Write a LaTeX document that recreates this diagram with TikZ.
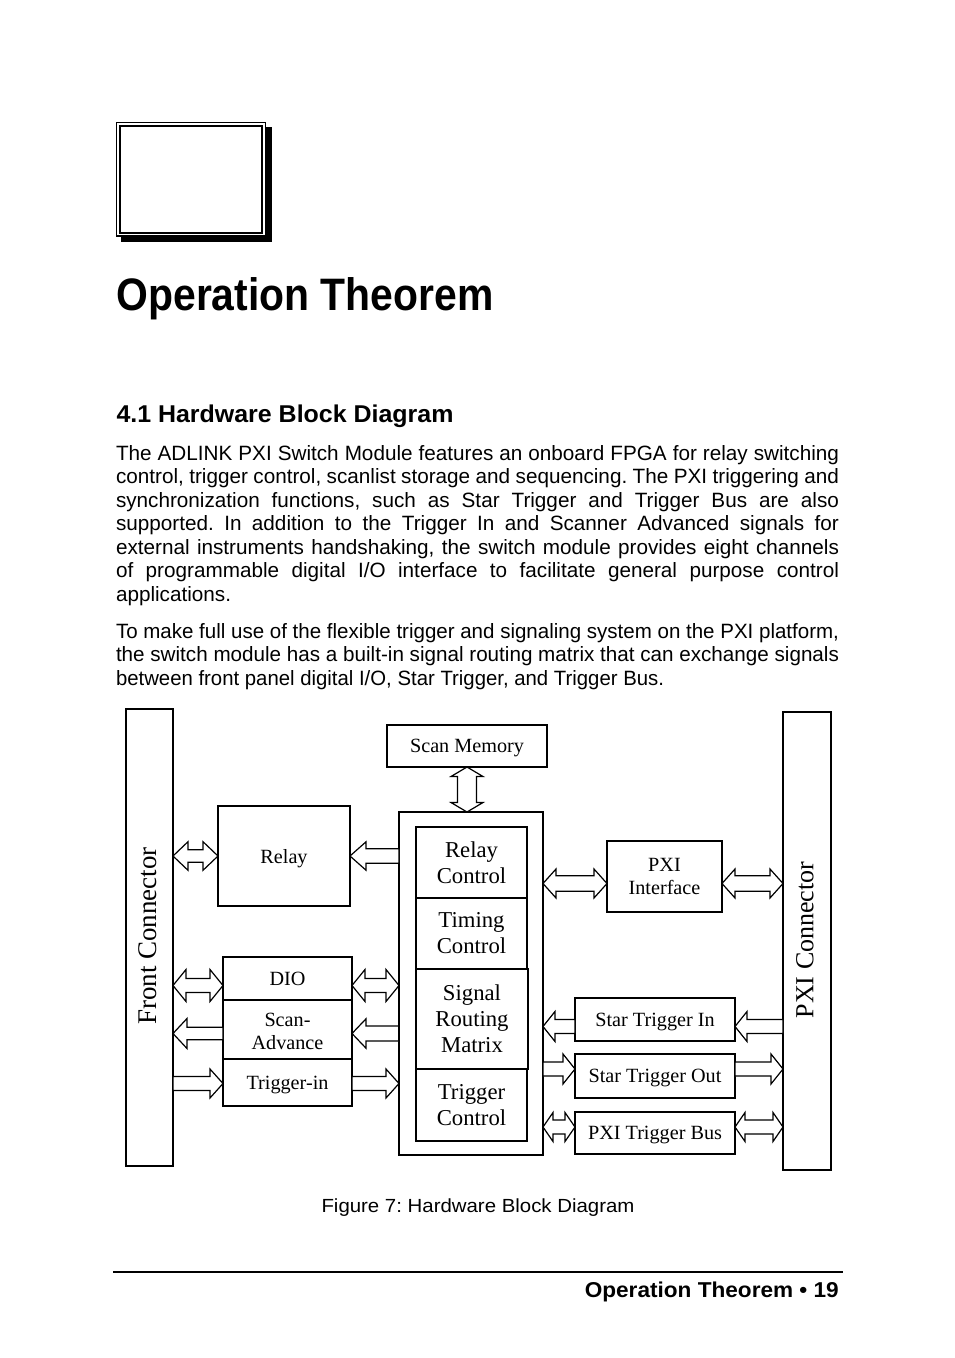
\documentclass[tikz,border=0pt]{standalone}
\usepackage{fontspec}
\setmainfont{Liberation Sans}
\newfontfamily\tms{Liberation Serif}
\usepackage{graphicx}
\usetikzlibrary{calc}
\frenchspacing
\tikzset{
  box/.style={draw, line width=1.4pt, fill=white, inner sep=0pt, outer sep=0pt, align=center,
    font=\tms\fontsize{20.2}{23.5}\selectfont},
  one/.style={text depth=0pt},
  bigbox/.style={box, font=\tms\fontsize{22.7}{26}\selectfont},
  conn/.style={box, font=\tms\fontsize{26.5}{30}\selectfont},
  blk/.style={draw, line width=1.2pt, fill=white, line join=miter},
  ashaft/.store in=\ashaft, ahead/.store in=\ahead, alen/.store in=\alen,
  ashaft=7, ahead=14.5, alen=13,
  txt/.style={anchor=base west, inner sep=0pt, outer sep=0pt},
  body/.style={txt, font=\fontsize{20.7}{25}\selectfont},
}
% single block arrow from #2 to #3 (horizontal)
\newcommand\sarr[3][]{\draw[blk,#1] let \p1=(#2), \p2=(#3), \n1={2*(\x2>\x1)-1} in
  (\x1,\y1+\ashaft pt) -- (\x2-\n1*\alen pt,\y1+\ashaft pt) -- (\x2-\n1*\alen pt,\y1+\ahead pt)
  -- (\x2,\y1) -- (\x2-\n1*\alen pt,\y1-\ahead pt) -- (\x2-\n1*\alen pt,\y1-\ashaft pt)
  -- (\x1,\y1-\ashaft pt) -- cycle;}
% double block arrow (horizontal)
\newcommand\darr[3][]{\draw[blk,#1] let \p1=(#2), \p2=(#3), \n1={2*(\x2>\x1)-1} in
  (\x1,\y1) -- (\x1+\n1*\alen pt,\y1+\ahead pt) -- (\x1+\n1*\alen pt,\y1+\ashaft pt)
  -- (\x2-\n1*\alen pt,\y1+\ashaft pt) -- (\x2-\n1*\alen pt,\y1+\ahead pt) -- (\x2,\y1)
  -- (\x2-\n1*\alen pt,\y1-\ahead pt) -- (\x2-\n1*\alen pt,\y1-\ashaft pt)
  -- (\x1+\n1*\alen pt,\y1-\ashaft pt) -- (\x1+\n1*\alen pt,\y1-\ahead pt) -- cycle;}
% double block arrow (vertical)
\newcommand\vdarr[3][]{\draw[blk,#1] let \p1=(#2), \p2=(#3), \n1={2*(\y2>\y1)-1} in
  (\x1,\y1) -- (\x1+\ahead pt,\y1+\n1*\alen pt) -- (\x1+\ashaft pt,\y1+\n1*\alen pt)
  -- (\x1+\ashaft pt,\y2-\n1*\alen pt) -- (\x1+\ahead pt,\y2-\n1*\alen pt) -- (\x1,\y2)
  -- (\x1-\ahead pt,\y2-\n1*\alen pt) -- (\x1-\ashaft pt,\y2-\n1*\alen pt)
  -- (\x1-\ashaft pt,\y1+\n1*\alen pt) -- (\x1-\ahead pt,\y1+\n1*\alen pt) -- cycle;}
\begin{document}
\begin{tikzpicture}[x=1pt,y=-1pt]
\useasboundingbox (0,0) rectangle (954,1358);
\fill[white] (0,0) rectangle (954,1358);
% chapter icon
\fill[black] (121,127) rectangle (272,242);
\draw[fill=white, line width=1.1pt] (116.3,122.3) rectangle (265.7,236);
\draw[line width=2.2pt] (119.8,125.8) rectangle (262.2,232.6);
% title and text
\node[txt] (title) at (116.5,310) {\resizebox{377pt}{\height}{\fontsize{45.5}{52}\selectfont\bfseries Operation Theorem}};
\node[txt] (sec) at (116.5,422) {\resizebox{337pt}{\height}{\fontsize{24.3}{28}\selectfont\bfseries 4.1 Hardware Block Diagram}};
\node[body] (p1) at (116,460) {\makebox[723pt][s]{The ADLINK PXI Switch Module features an onboard FPGA for relay switching}};
\node[body] (p2) at (116,483.5) {\makebox[723pt][s]{control, trigger control, scanlist storage and sequencing. The PXI triggering and}};
\node[body] (p3) at (116,507) {\makebox[723pt][s]{synchronization functions, such as Star Trigger and Trigger Bus are also}};
\node[body] (p4) at (116,530.5) {\makebox[723pt][s]{supported. In addition to the Trigger In and Scanner Advanced signals for}};
\node[body] (p5) at (116,554) {\makebox[723pt][s]{external instruments handshaking, the switch module provides eight channels}};
\node[body] (p6) at (116,577.5) {\makebox[723pt][s]{of programmable digital I/O interface to facilitate general purpose control}};
\node[body] (p7) at (116,601) {applications.};
\node[body] (q1) at (116,638) {\resizebox{723pt}{\height}{To make full use of the flexible trigger and signaling system on the PXI platform,}};
\node[body] (q2) at (116,661.5) {\resizebox{723pt}{\height}{the switch module has a built-in signal routing matrix that can exchange signals}};
\node[body] (q3) at (116,685) {\resizebox{548pt}{\height}{between front panel digital I/O, Star Trigger, and Trigger Bus.}};
% diagram boxes
\node[conn, minimum width=47pt, minimum height=457pt] (front) at (149.5,937.5) {};
\node[rotate=90, font=\tms\fontsize{27}{30}\selectfont, inner sep=0pt] (frontlbl) at (148,936) {Front Connector};
\node[conn, minimum width=48pt, minimum height=458pt] (pxi) at (807,941) {};
\node[rotate=90, font=\tms\fontsize{26}{30}\selectfont, inner sep=0pt] (pxilbl) at (805,940) {PXI Connector};
\node[box, one, minimum width=160pt, minimum height=42pt] (scanmem) at (467,746) {Scan Memory};
\node[box, one, minimum width=132pt, minimum height=100pt] (relay) at (284,856) {Relay};
\node[box, one, minimum width=129pt, minimum height=43pt] (dio) at (287.5,978.5) {DIO};
\node[box, minimum width=129pt, minimum height=59pt] (scanadv) at (287.5,1029.5) {\rule{0pt}{17pt}Scan-\\Advance};
\node[box, one, minimum width=129pt, minimum height=47pt] (trigin) at (287.5,1082.5) {Trigger-in};
\draw[line width=2.4pt] (scanadv.south west) -- (scanadv.south east);
\node[box, minimum width=144pt, minimum height=343pt] (fpga) at (471,983.5) {};
\node[bigbox, minimum width=111pt, minimum height=71pt] (relayctl) at (471.5,862.5) {Relay\\Control};
\node[bigbox, minimum width=111pt, minimum height=71pt] (timing) at (471.5,933.5) {Timing\\Control};
\node[bigbox, minimum width=112pt, minimum height=100pt, line width=1.8pt] (signal) at (472,1019) {Signal\\Routing\\Matrix};
\node[bigbox, minimum width=111pt, minimum height=72pt] (trigctl) at (471.5,1105) {Trigger\\Control};
\node[box, minimum width=115pt, minimum height=71pt] (pxiif) at (664.5,876.5) {PXI\\Interface};
\node[box, one, minimum width=160pt, minimum height=43pt] (stin) at (655,1019.5) {Star Trigger In};
\node[box, one, minimum width=160pt, minimum height=44pt] (stout) at (655,1076) {Star Trigger Out};
\node[box, one, minimum width=160pt, minimum height=42pt] (ptb) at (655,1133) {PXI Trigger Bus};
% arrow rows
\coordinate (yDIO) at ([yshift=-7pt]dio.west);
\coordinate (ySA) at ([yshift=-4pt]scanadv.west);
\coordinate (yTI) at ([yshift=-1pt]trigin.west);
\coordinate (yPI) at ([yshift=-7pt]pxiif.east);
\coordinate (ySTI) at ([yshift=-7pt]stin.west);
\coordinate (ySTO) at ([yshift=7pt]stout.west);
\coordinate (yPTB) at ([yshift=6pt]ptb.west);
% block arrows
\vdarr[ashaft=9.5, ahead=16, alen=9.5]{scanmem.south}{scanmem.south |- fpga.north}
\darr[ashaft=6.3, ahead=14.3, alen=15]{front.east |- relay.west}{relay.west}
\sarr[ashaft=7.2, ahead=14.2, alen=16]{fpga.west |- relay.east}{relay.east}
\darr[ashaft=7, ahead=16, alen=13]{front.east |- yDIO}{yDIO}
\darr[ashaft=7, ahead=16, alen=13]{dio.east |- yDIO}{fpga.west |- yDIO}
\sarr[ashaft=6.3, ahead=15, alen=14]{ySA}{front.east |- ySA}
\sarr[ashaft=7.5, ahead=14.7, alen=14]{fpga.west |- ySA}{scanadv.east |- ySA}
\draw[line width=2.6pt] ([yshift=7.5pt]fpga.west |- ySA) -- ([yshift=-7.5pt]fpga.west |- ySA);
\sarr[ashaft=7, ahead=14.5, alen=13]{front.east |- yTI}{yTI}
\sarr[ashaft=7, ahead=14.5, alen=13]{trigin.east |- yTI}{fpga.west |- yTI}
\darr[ashaft=7.7, ahead=14.5, alen=13]{fpga.east |- yPI}{pxiif.west |- yPI}
\darr[ashaft=7.7, ahead=14.5, alen=13]{pxiif.east |- yPI}{pxi.west |- yPI}
\sarr[ashaft=7, ahead=15, alen=12]{ySTI}{fpga.east |- ySTI}
\sarr[ashaft=7, ahead=15, alen=12]{pxi.west |- ySTI}{stin.east |- ySTI}
\sarr[ashaft=7, ahead=15, alen=12]{fpga.east |- ySTO}{ySTO}
\sarr[ashaft=7, ahead=15, alen=12]{stout.east |- ySTO}{pxi.west |- ySTO}
\darr[ashaft=7, ahead=14.5, alen=10]{fpga.east |- yPTB}{yPTB}
\darr[ashaft=7, ahead=14.5, alen=10]{ptb.east |- yPTB}{pxi.west |- yPTB}
% caption and footer
\node[txt] (caption) at (321.5,1212) {\resizebox{313pt}{\height}{\fontsize{19}{22}\selectfont Figure 7: Hardware Block Diagram}};
\draw[line width=1.8pt] (113,1272) coordinate (rl) -- (843,1272) coordinate (rr);
\node[anchor=base east, inner sep=0pt] (footer) at (839,1297) {\resizebox{254pt}{\height}{\fontsize{21.5}{24}\selectfont\bfseries Operation Theorem \textbullet{} 19}};
\end{tikzpicture}
\end{document}
